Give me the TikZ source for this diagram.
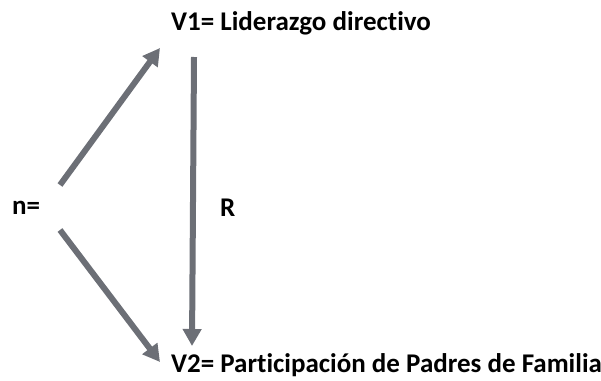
\documentclass[tikz,border=0pt]{standalone}
\usepackage{fontspec}
\setmainfont[Ligatures=NoCommon]{Carlito}
\usetikzlibrary{arrows.meta}

\definecolor{flecha}{RGB}{108,111,118}

\tikzset{
    etiqueta/.style={font=\bfseries\fontsize{27}{31}\selectfont, inner sep=0pt, anchor=west},
    conector/.style={draw=flecha, line width=6pt, -{Triangle[length=17pt, width=18pt]}}
}

\begin{document}
\begin{tikzpicture}[x=1pt, y=-1pt]
        \useasboundingbox (0,0) rectangle (601,380);

        \node[etiqueta] (n) at (12,208) {n=};
        \node[etiqueta] (v1) at (171,23) {V1= Liderazgo directivo};
        \node[etiqueta] (v2) at (171,365) {V2= Participación de Padres de Familia};
        \node[etiqueta] (r) at (220,208) {R};

        \coordinate (s1) at (60,185);
        \coordinate (e1) at (160,48);
        \coordinate (s2) at (60,230);
        \coordinate (e2) at (160,362);
        \coordinate (s3) at (194,57);
        \coordinate (e3) at (192,346);

        \draw[conector] (s1) -- (e1);
        \draw[conector] (s2) -- (e2);
        \draw[conector] (s3) -- (e3);

    \end{tikzpicture}
\end{document}
